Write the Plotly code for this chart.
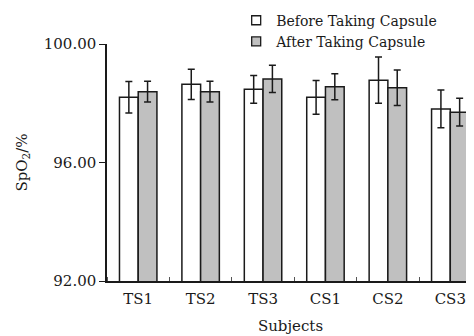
import plotly.graph_objects as go

subjects = ["TS1", "TS2", "TS3", "CS1", "CS2", "CS3"]
before_vals = [98.20, 98.64, 98.47, 98.20, 98.78, 97.81]
before_err = [0.53, 0.51, 0.47, 0.57, 0.78, 0.64]
after_vals = [98.39, 98.39, 98.82, 98.56, 98.52, 97.70]
after_err = [0.35, 0.35, 0.46, 0.44, 0.60, 0.47]
y_ticks = [92, 96, 100]

FONT = "DejaVu Serif"
INK = "#1a1a1a"
xpos = list(range(len(subjects)))

fig = go.Figure()
fig.add_trace(go.Bar(
    x=xpos, y=before_vals, name="Before Taking Capsule", showlegend=False,
    marker=dict(color="white", line=dict(color=INK, width=1.5)),
    error_y=dict(type="data", array=before_err, color=INK, thickness=1.5, width=3.5),
))
fig.add_trace(go.Bar(
    x=xpos, y=after_vals, name="After Taking Capsule", showlegend=False,
    marker=dict(color="#c0c0c0", line=dict(color=INK, width=1.5)),
    error_y=dict(type="data", array=after_err, color=INK, thickness=1.5, width=3.5),
))
# legend entries with small square swatches
fig.add_trace(go.Scatter(
    x=[None], y=[None], mode="markers", name="Before Taking Capsule",
    marker=dict(symbol="square", size=9, color="white", line=dict(color=INK, width=1.3)),
))
fig.add_trace(go.Scatter(
    x=[None], y=[None], mode="markers", name="After Taking Capsule",
    marker=dict(symbol="square", size=9, color="#c0c0c0", line=dict(color=INK, width=1.3)),
))

fig.update_layout(
    width=466, height=328,
    margin=dict(l=99, r=0, t=36, b=55, autoexpand=False),
    paper_bgcolor="white", plot_bgcolor="white",
    barmode="group", bargap=0.4, bargroupgap=0,
    font=dict(family=FONT, size=15, color=INK),
    showlegend=True,
    legend=dict(x=0.352, y=1.166, xanchor="left", yanchor="top",
                font=dict(family=FONT, size=14, color=INK),
                bgcolor="rgba(0,0,0,0)", tracegroupgap=0, itemwidth=30),
    xaxis=dict(
        range=[-0.5, 5.38], automargin=False,
        tickmode="array", tickvals=xpos, ticktext=subjects,
        ticks="", showgrid=False, zeroline=False,
        showline=True, linecolor=INK, linewidth=1.5,
        ticklabelstandoff=3,
        minor=dict(tick0=0.5, dtick=1, ticks="inside", ticklen=4, tickcolor="#555555", showgrid=False),
        title=dict(text="Subjects", standoff=14, font=dict(family=FONT, size=15)),
        tickfont=dict(family=FONT, size=15),
    ),
    yaxis=dict(
        range=[92, 100], automargin=False,
        tickmode="array", tickvals=y_ticks, ticktext=[f"{v:.2f}" for v in y_ticks],
        ticks="outside", ticklen=6, tickcolor=INK, tickwidth=1.3,
        showgrid=False, zeroline=False,
        showline=True, linecolor=INK, linewidth=1.5,
        title=dict(text="SpO<sub>2</sub>/%", standoff=13, font=dict(family=FONT, size=15)),
        tickfont=dict(family=FONT, size=15),
    ),
)

fig.write_html("out.html")
